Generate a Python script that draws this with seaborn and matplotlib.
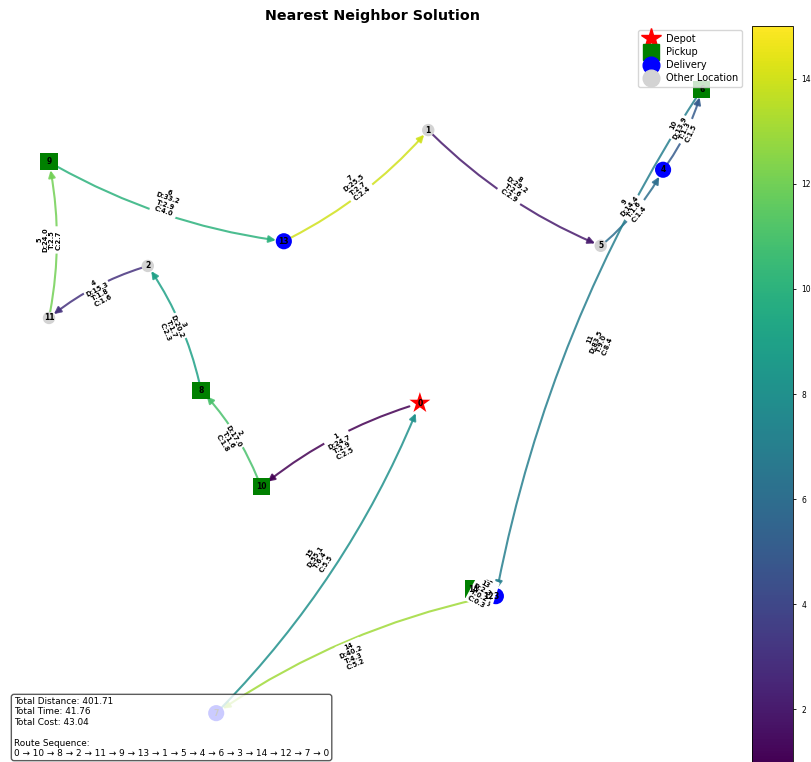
import numpy as np
import pandas as pd
import matplotlib
matplotlib.use("Agg")
import matplotlib.pyplot as plt
import matplotlib.colors as mcolors
from matplotlib.patches import FancyArrowPatch
from matplotlib.lines import Line2D
import seaborn as sns

# Locations, indexed by node id
node_x = [53.8, 54.9, 18.0, 63.8, 85.8, 77.6, 90.9, 27.0, 25.0, 5.0, 32.9, 5.0, 62.8, 35.9, 60.9]
node_y = [52.6, 94.6, 73.7, 22.9, 88.5, 76.8, 100.9, 4.9, 54.6, 89.7, 39.7, 65.7, 22.8, 77.5, 24.0]
node_type = ["Depot", "Other Location", "Other Location", "Delivery", "Delivery",
             "Other Location", "Pickup", "Delivery", "Pickup", "Pickup", "Pickup",
             "Other Location", "Delivery", "Delivery", "Pickup"]

# Tour found by the nearest-neighbor heuristic and the per-leg metrics
route = [0, 10, 8, 2, 11, 9, 13, 1, 5, 4, 6, 3, 14, 12, 7, 0]
leg_dist = [24.7, 17.0, 20.2, 15.3, 24.0, 33.2, 25.5, 29.2, 14.4, 13.9, 83.5, 3.2, 2.3, 40.2, 55.1]
leg_time = [2.9, 1.6, 1.7, 1.8, 2.5, 2.9, 2.7, 2.6, 1.6, 1.3, 9.0, 0.3, 0.2, 4.3, 6.4]
leg_cost = [2.5, 1.8, 2.3, 1.6, 2.7, 4.0, 2.4, 2.9, 1.4, 1.5, 8.4, 0.5, 0.3, 5.2, 5.5]

total_distance = 401.71
total_time = 41.76
total_cost = 43.04

W, H = 812, 762
fig = plt.figure(figsize=(W / 100, H / 100), dpi=100)
ax = fig.add_axes([0, 0, 745 / W, 736 / H])
cax = fig.add_axes([752 / W, 0, 41 / W, 736 / H])

ax.set_xlim(-11 / 7.6, (745 - 11) / 7.6)
ax.set_ylim((745 - 762) / 6.5, (745 - 26) / 6.5)
ax.axis("off")

palette = {"Depot": "red", "Pickup": "green", "Delivery": "blue", "Other Location": "lightgrey"}
markers = {"Depot": "*", "Pickup": "s", "Delivery": "o", "Other Location": "o"}
sizes = {"Depot": 250, "Pickup": 150, "Delivery": 135, "Other Location": 80}

# Route legs, coloured by the departing node
edge_cmap = plt.get_cmap("viridis")
edge_norm = mcolors.Normalize(0, 14)
for step, (a, b) in enumerate(zip(route[:-1], route[1:]), start=1):
    ra = np.sqrt(sizes[node_type[a]]) / 2
    rb = np.sqrt(sizes[node_type[b]]) / 2
    arrow = FancyArrowPatch((node_x[a], node_y[a]), (node_x[b], node_y[b]),
                            connectionstyle="arc3,rad=0.1", arrowstyle="-|>",
                            mutation_scale=10, lw=1.5, color=edge_cmap(edge_norm(a)),
                            alpha=0.85, shrinkA=ra, shrinkB=rb, zorder=1)
    ax.add_patch(arrow)

    p1 = ax.transData.transform((node_x[a], node_y[a]))
    p2 = ax.transData.transform((node_x[b], node_y[b]))
    ang = np.degrees(np.arctan2(p2[1] - p1[1], p2[0] - p1[0]))
    if ang > 90:
        ang -= 180
    if ang < -90:
        ang += 180
    mx = (node_x[a] + node_x[b]) / 2
    my = (node_y[a] + node_y[b]) / 2
    label = f"{step}\nD:{leg_dist[step-1]:.1f}\nT:{leg_time[step-1]:.1f}\nC:{leg_cost[step-1]:.1f}"
    ax.text(mx, my, label, rotation=ang, ha="center", va="center", multialignment="center",
            fontsize=4.8, fontweight="bold", linespacing=1.1,
            bbox=dict(boxstyle="round,pad=0.2", fc="white", ec="none"), zorder=3)

# Locations
nodes = pd.DataFrame({"x": node_x, "y": node_y, "kind": node_type})
sns.scatterplot(data=nodes, x="x", y="y", hue="kind", style="kind", size="kind",
                palette=palette, markers=markers, sizes=sizes, legend=False,
                linewidth=0, ax=ax, zorder=2)
for i, (x, y) in enumerate(zip(node_x, node_y)):
    ax.text(x, y, str(i), ha="center", va="center", fontsize=5.5, fontweight="bold", zorder=4)

ax.set_title("Nearest Neighbor Solution", fontsize=10.3, fontweight="bold", pad=4)

handles = [
    Line2D([], [], marker="*", ls="None", mfc="red", mec="red", ms=15, label="Depot"),
    Line2D([], [], marker="s", ls="None", mfc="green", mec="green", ms=11, label="Pickup"),
    Line2D([], [], marker="o", ls="None", mfc="blue", mec="blue", ms=12, label="Delivery"),
    Line2D([], [], marker="o", ls="None", mfc="lightgrey", mec="lightgrey", ms=12, label="Other Location"),
]
ax.legend(handles=handles, loc="upper right", bbox_to_anchor=(742 / W, 1 - 30 / H),
          bbox_transform=fig.transFigure, fontsize=7, labelspacing=0.32,
          handletextpad=0.5, borderpad=0.4, borderaxespad=0)

seq = " \u2192 ".join(str(n) for n in route)
summary = (f"Total Distance: {total_distance:.2f}\nTotal Time: {total_time:.2f}\n"
           f"Total Cost: {total_cost:.2f}\n\nRoute Sequence:\n{seq}")
ax.text(14 / 745, (762 - 697) / 736, summary, transform=ax.transAxes, ha="left", va="top",
        fontsize=6.4, zorder=6,
        bbox=dict(boxstyle="round,pad=0.3", fc="white", alpha=0.8, ec="#333333"))

sm = plt.cm.ScalarMappable(cmap="viridis", norm=mcolors.Normalize(1, 15))
cb = fig.colorbar(sm, cax=cax)
cb.set_label("Visit Order", fontsize=6.5, labelpad=1)
cax.tick_params(labelsize=5.5, length=2.5, width=0.6)
cb.outline.set_linewidth(0.6)

fig.savefig("out.png", dpi=100)
